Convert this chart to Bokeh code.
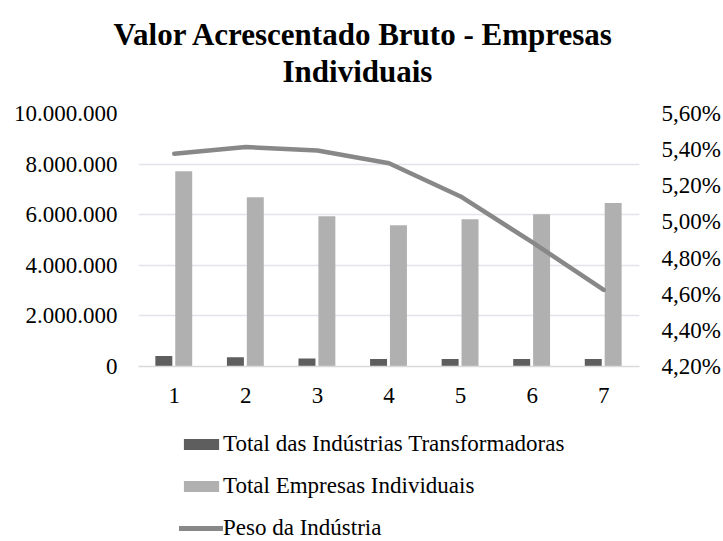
from bokeh.plotting import figure
from bokeh.layouts import column
from bokeh.models import (Range1d, LinearAxis, FixedTicker, CustomJSTickFormatter,
                          Legend, LegendItem, Title, ColumnDataSource, FactorRange)
from bokeh.transform import dodge
from bokeh.embed import file_html
from bokeh.resources import INLINE

categories = ["1", "2", "3", "4", "5", "6", "7"]
industria = [415000, 362000, 320000, 297000, 300000, 295000, 299000]
empresas = [7720000, 6690000, 5940000, 5580000, 5820000, 6020000, 6460000]
peso = [5.377, 5.414, 5.395, 5.325, 5.141, 4.888, 4.624]
left_ticks = [0, 2000000, 4000000, 6000000, 8000000, 10000000]
right_ticks = [4.2, 4.4, 4.6, 4.8, 5.0, 5.2, 5.4, 5.6]

title_line1 = "Valor Acrescentado Bruto - Empresas"
title_line2 = "Individuais"
labels = ["Total das Indústrias Transformadoras", "Total Empresas Individuais", "Peso da Indústria"]

FONT = "Liberation Serif"
C_IND = "#5e5e5e"
C_EMP = "#b0b0b0"
C_PESO = "#888888"

src = ColumnDataSource(dict(cat=categories, ind=industria, emp=empresas, peso=peso))

p = figure(width=723, height=420, x_range=FactorRange(*categories, range_padding=0),
           y_range=Range1d(0, 10000000), output_backend="svg", toolbar_location=None,
           title=None, min_border_left=138, min_border_right=83, min_border_top=113,
           min_border_bottom=54)
p.outline_line_color = None
p.extra_y_ranges = {"pct": Range1d(4.2, 5.6)}

p.vbar(x=dodge("cat", -0.146, range=p.x_range), top="ind", width=0.237, source=src,
       fill_color=C_IND, line_color=None)
p.vbar(x=dodge("cat", 0.132, range=p.x_range), top="emp", width=0.237, source=src,
       fill_color=C_EMP, line_color=None)
p.line(x="cat", y="peso", source=src, y_range_name="pct", line_color=C_PESO,
       line_width=4.5, line_cap="round", line_join="round")

p.xgrid.grid_line_color = None
p.ygrid.grid_line_color = "#e1e4e9"
p.ygrid.grid_line_width = 1.5
p.yaxis.ticker = FixedTicker(ticks=left_ticks)
p.yaxis.formatter = CustomJSTickFormatter(code="""
var s = Math.round(tick).toString();
return s.replace(/\\B(?=(\\d{3})+(?!\\d))/g, ".");
""")

right = LinearAxis(y_range_name="pct", ticker=FixedTicker(ticks=right_ticks),
                   formatter=CustomJSTickFormatter(code="""
return tick.toFixed(2).replace(".", ",") + "%";
"""))
p.add_layout(right, "right")

for ax in [p.xaxis[0], p.yaxis[0], right]:
    ax.axis_line_color = None
    ax.major_tick_line_color = None
    ax.minor_tick_line_color = None
    ax.major_label_text_font = FONT
    ax.major_label_text_font_size = "23px"
    ax.major_label_text_color = "#000000"
p.yaxis[0].major_label_standoff = 15
right.major_label_standoff = 16
p.xaxis[0].major_label_standoff = 15
p.xaxis[0].axis_line_color = "#d9d9d9"
p.xaxis[0].axis_line_width = 1.5

t2 = Title(text=title_line2, align="left", offset=144, text_font=FONT, text_font_size="31px",
           text_font_style="bold", text_color="#000000", standoff=50)
t1 = Title(text=title_line1, align="left", offset=-25, text_font=FONT, text_font_size="31px",
           text_font_style="bold", text_color="#000000", standoff=0)
try:
    t1.standoff = -50
except Exception:
    pass
p.add_layout(t2, "above")
p.add_layout(t1, "above")

# legend panel below the chart (hidden copies of the series supply the legend glyphs)
lf = figure(width=723, height=121, x_range=FactorRange(*categories), y_range=Range1d(0, 1),
            output_backend="svg", toolbar_location=None, min_border=0)
lf.axis.visible = False
lf.grid.grid_line_color = None
lf.outline_line_color = None
g1 = lf.vbar(x="cat", top="ind", width=0.2, source=src, fill_color=C_IND, line_color=None)
g2 = lf.vbar(x="cat", top="emp", width=0.2, source=src, fill_color=C_EMP, line_color=None)
g3 = lf.line(x="cat", y="peso", source=src, line_color=C_PESO, line_width=5, line_cap="round")
for g in (g1, g2, g3):
    g.visible = False

legend = Legend(items=[LegendItem(label=labels[0], renderers=[g1]),
                       LegendItem(label=labels[1], renderers=[g2]),
                       LegendItem(label=labels[2], renderers=[g3])],
                location=(41, 0), orientation="vertical", glyph_width=44, glyph_height=14,
                label_text_font=FONT, label_text_font_size="23px", label_text_color="#000000",
                border_line_color=None, background_fill_alpha=0, spacing=16, padding=0,
                margin=0, label_standoff=0, label_height=23)
lf.add_layout(legend, "center")

layout = column(p, lf, spacing=0)
open("out.html", "w").write(file_html(layout, INLINE))
